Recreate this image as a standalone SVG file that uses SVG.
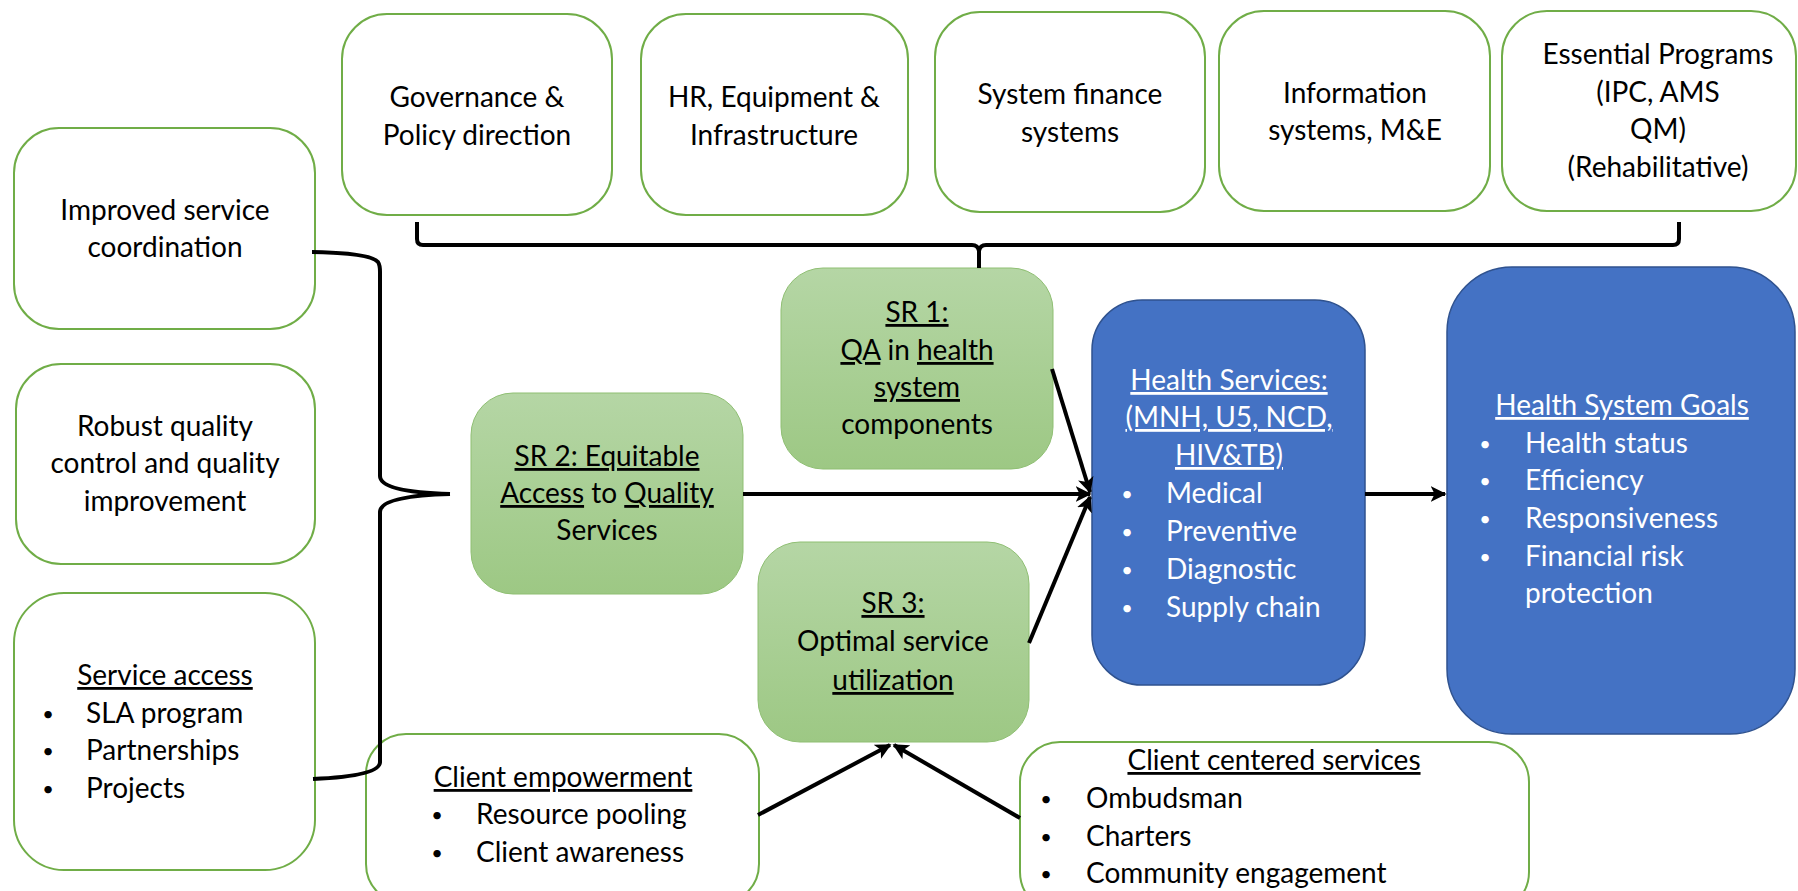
<svg xmlns="http://www.w3.org/2000/svg" width="1798" height="891" viewBox="0 0 1798 891">
<defs>
<linearGradient id="gg" x1="0" y1="0" x2="0" y2="1">
<stop offset="0" stop-color="#B5D6A5"/>
<stop offset="1" stop-color="#9DC884"/>
</linearGradient>
<marker id="ah" viewBox="0 0 10 10" refX="9" refY="5" markerWidth="4" markerHeight="4" orient="auto" markerUnits="strokeWidth">
<path d="M0,0 L10,5 L0,10 L2.5,5 Z" fill="#000"/>
</marker>
<style>
.wb{fill:#fff;stroke:#70AD47;stroke-width:2}
.gb{fill:url(#gg);stroke:#8FBF73;stroke-width:1}
.bb{fill:#4472C4;stroke:#2F528F;stroke-width:1.5}
text{font-family:Lato,"Liberation Sans",sans-serif;font-size:28px;fill:#000}
.c{text-anchor:middle}
.w{fill:#fff}
.u{text-decoration:underline}
.b{font-size:20px;text-anchor:middle}
.ln{fill:none;stroke:#000;stroke-width:4}
.ar{fill:none;stroke:#000;stroke-width:4;marker-end:url(#ah)}
</style>
</defs>
<rect width="1798" height="891" fill="#fff"/>

<g id="governance">
<rect class="wb" x="342" y="14" width="270" height="201" rx="45"/>
<text class="c" x="477" y="107">Governance &amp;</text>
<text class="c" x="477" y="145">Policy direction</text>
</g>
<g id="hr">
<rect class="wb" x="641" y="14" width="267" height="201" rx="45"/>
<text class="c" x="774" y="107">HR, Equipment &amp;</text>
<text class="c" x="774" y="145">Infrastructure</text>
</g>
<g id="finance">
<rect class="wb" x="935" y="12" width="270" height="200" rx="45"/>
<text class="c" x="1070" y="104">System finance</text>
<text class="c" x="1070" y="142">systems</text>
</g>
<g id="information">
<rect class="wb" x="1219" y="11" width="271" height="200" rx="45"/>
<text class="c" x="1355" y="103">Information</text>
<text class="c" x="1355" y="140">systems, M&amp;E</text>
</g>
<g id="essential">
<rect class="wb" x="1502" y="11" width="294" height="200" rx="45"/>
<text class="c" x="1658" y="64">Essential Programs</text>
<text class="c" x="1658" y="102">(IPC, AMS</text>
<text class="c" x="1658" y="139">QM)</text>
<text class="c" x="1658" y="177">(Rehabilitative)</text>
</g>

<g id="coordination">
<rect class="wb" x="14" y="128" width="301" height="201" rx="45"/>
<text class="c" x="165" y="220">Improved service</text>
<text class="c" x="165" y="257">coordination</text>
</g>
<g id="quality">
<rect class="wb" x="16" y="364" width="299" height="200" rx="45"/>
<text class="c" x="165" y="436">Robust quality</text>
<text class="c" x="165" y="473">control and quality</text>
<text class="c" x="165" y="511">improvement</text>
</g>
<g id="access">
<rect class="wb" x="14" y="593" width="301" height="277" rx="50"/>
<text class="c" x="165" y="685"><tspan class="u">Service access</tspan></text>
<text class="b" x="48" y="721">•</text><text x="86" y="723">SLA program</text>
<text class="b" x="48" y="758">•</text><text x="86" y="760">Partnerships</text>
<text class="b" x="48" y="796">•</text><text x="86" y="798">Projects</text>
</g>

<g id="sr1">
<rect class="gb" x="781" y="268" width="272" height="201" rx="42"/>
<text class="c" x="917" y="322"><tspan class="u">SR 1:</tspan></text>
<text class="c" x="917" y="360"><tspan class="u">QA</tspan> in <tspan class="u">health</tspan></text>
<text class="c" x="917" y="397"><tspan class="u">system</tspan></text>
<text class="c" x="917" y="434">components</text>
</g>
<g id="sr2">
<rect class="gb" x="471" y="393" width="272" height="201" rx="42"/>
<text class="c" x="607" y="466"><tspan class="u">SR 2: Equitable</tspan></text>
<text class="c" x="607" y="503"><tspan class="u">Access</tspan> to <tspan class="u">Quality</tspan></text>
<text class="c" x="607" y="540">Services</text>
</g>
<g id="sr3">
<rect class="gb" x="758" y="542" width="271" height="200" rx="42"/>
<text class="c" x="893" y="613"><tspan class="u">SR 3:</tspan></text>
<text class="c" x="893" y="651">Optimal service</text>
<text class="c" x="893" y="690"><tspan class="u">utilization</tspan></text>
</g>

<g id="health-services">
<rect class="bb" x="1092" y="300" width="273" height="385" rx="50"/>
<text class="c w" x="1229" y="390"><tspan class="u">Health Services:</tspan></text>
<text class="c w" x="1229" y="427"><tspan class="u">(MNH, U5, NCD,</tspan></text>
<text class="c w" x="1229" y="465"><tspan class="u">HIV&amp;TB)</tspan></text>
<text class="b w" x="1127" y="501">•</text><text class="w" x="1166" y="503">Medical</text>
<text class="b w" x="1127" y="539">•</text><text class="w" x="1166" y="541">Preventive</text>
<text class="b w" x="1127" y="577">•</text><text class="w" x="1166" y="579">Diagnostic</text>
<text class="b w" x="1127" y="615">•</text><text class="w" x="1166" y="617">Supply chain</text>
</g>
<g id="goals">
<rect class="bb" x="1447" y="267" width="348" height="467" rx="65"/>
<text class="c w" x="1622" y="415"><tspan class="u">Health System Goals</tspan></text>
<text class="b w" x="1485" y="451">•</text><text class="w" x="1525" y="453">Health status</text>
<text class="b w" x="1485" y="488">•</text><text class="w" x="1525" y="490">Efficiency</text>
<text class="b w" x="1485" y="526">•</text><text class="w" x="1525" y="528">Responsiveness</text>
<text class="b w" x="1485" y="564">•</text><text class="w" x="1525" y="566">Financial risk</text>
<text class="w" x="1525" y="603">protection</text>
</g>

<g id="client-empowerment">
<rect class="wb" x="366" y="734" width="393" height="170" rx="40"/>
<text class="c" x="563" y="787"><tspan class="u">Client empowerment</tspan></text>
<text class="b" x="437" y="822">•</text><text x="476" y="824">Resource pooling</text>
<text class="b" x="437" y="860">•</text><text x="476" y="862">Client awareness</text>
</g>
<g id="client-centered">
<rect class="wb" x="1020" y="742" width="509" height="170" rx="40"/>
<text class="c" x="1274" y="770"><tspan class="u">Client centered services</tspan></text>
<text class="b" x="1046" y="806">•</text><text x="1086" y="808">Ombudsman</text>
<text class="b" x="1046" y="844">•</text><text x="1086" y="846">Charters</text>
<text class="b" x="1046" y="881">•</text><text x="1086" y="883">Community engagement</text>
</g>

<g id="connectors">
<path class="ln" d="M417,222 V239 Q417,245 423,245 H972 Q978,245 979,251 V268 M979,251 Q980,245 986,245 H1673 Q1679,245 1679,239 V222"/>
<path class="ln" d="M312,252 Q370,253 378,262 Q380,265 380,272 V476 Q380,492 450,494 M450,494 Q380,496 380,512 V762 Q380,776 313,779"/>
<line class="ar" x1="743" y1="494" x2="1090" y2="494"/>
<line class="ar" x1="1052" y1="369" x2="1090" y2="492"/>
<line class="ar" x1="1029" y1="643" x2="1090" y2="497"/>
<line class="ar" x1="1365" y1="494" x2="1445" y2="494"/>
<line class="ar" x1="758" y1="815" x2="890" y2="745"/>
<line class="ar" x1="1020" y1="818" x2="894" y2="745"/>
</g>
</svg>
